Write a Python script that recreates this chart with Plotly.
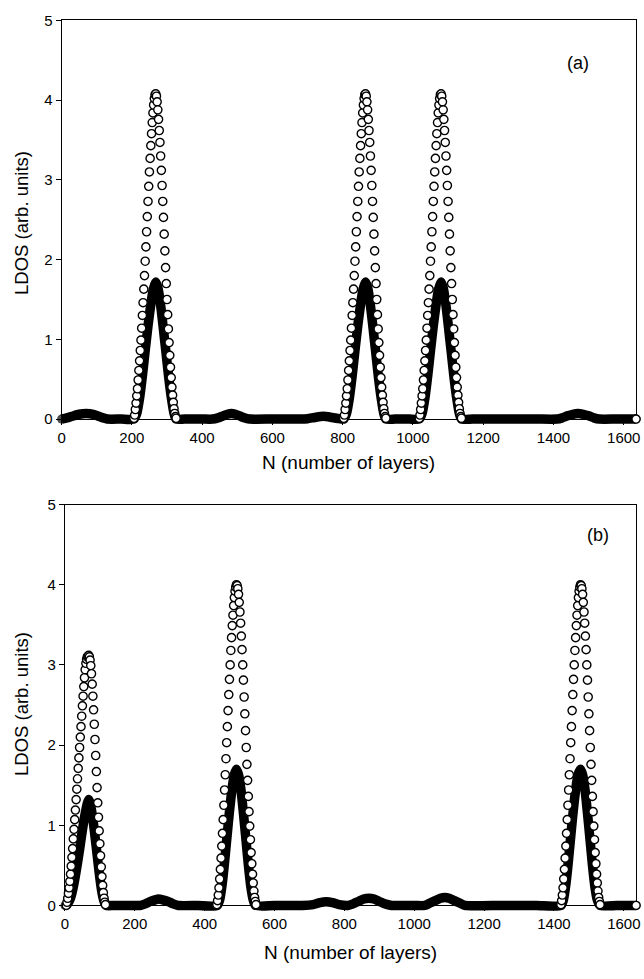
import plotly.graph_objects as go

# ---------------- data: panel (a) ----------------
# open circles (N sampled every 2 layers inside each resonance)
A1_OPEN_N = list(range(206, 328, 2))
A2_OPEN_N = list(range(803, 925, 2))
A3_OPEN_N = list(range(1018, 1140, 2))
A1_OPEN_LDOS = [0.01, 0.05, 0.12, 0.20, 0.29, 0.38, 0.49, 0.61, 0.73, 0.86,
                0.99, 1.14, 1.30, 1.46, 1.63, 1.80, 1.98, 2.16, 2.35, 2.54,
                2.73, 2.92, 3.10, 3.27, 3.43, 3.58, 3.72, 3.84, 3.94, 4.02,
                4.07,
                4.08, 4.05, 3.98, 3.88, 3.76, 3.62, 3.47, 3.30, 3.12, 2.93,
                2.73, 2.53, 2.32, 2.11, 1.90, 1.70, 1.50, 1.31, 1.13, 0.96,
                0.80, 0.65, 0.52, 0.40, 0.30, 0.21, 0.13, 0.07, 0.03, 0.01]
A2_OPEN_LDOS = [0.01, 0.05, 0.12, 0.20, 0.29, 0.38, 0.49, 0.61, 0.73, 0.86,
                0.99, 1.14, 1.30, 1.46, 1.63, 1.80, 1.98, 2.16, 2.35, 2.54,
                2.73, 2.92, 3.10, 3.27, 3.43, 3.58, 3.72, 3.84, 3.94, 4.02,
                4.07,
                4.08, 4.05, 3.98, 3.88, 3.76, 3.62, 3.47, 3.30, 3.12, 2.93,
                2.73, 2.53, 2.32, 2.11, 1.90, 1.70, 1.50, 1.31, 1.13, 0.96,
                0.80, 0.65, 0.52, 0.40, 0.30, 0.21, 0.13, 0.07, 0.03, 0.01]
A3_OPEN_LDOS = [0.01, 0.05, 0.12, 0.20, 0.29, 0.38, 0.49, 0.61, 0.73, 0.86,
                0.99, 1.14, 1.30, 1.46, 1.63, 1.80, 1.98, 2.16, 2.35, 2.54,
                2.73, 2.92, 3.10, 3.27, 3.43, 3.58, 3.72, 3.84, 3.94, 4.02,
                4.07,
                4.08, 4.05, 3.98, 3.88, 3.76, 3.62, 3.47, 3.30, 3.12, 2.93,
                2.73, 2.53, 2.32, 2.11, 1.90, 1.70, 1.50, 1.31, 1.13, 0.96,
                0.80, 0.65, 0.52, 0.40, 0.30, 0.21, 0.13, 0.07, 0.03, 0.01]
A_END_N = [1635]
A_END_LDOS = [0.0]

# filled circles (dense curve)
A_FILLED_N = [0, 15, 30, 50, 70, 90, 105, 118, 130, 170,
              206, 214, 222, 230, 238, 246, 254, 261, 268,
              274, 281, 289, 297, 305, 313, 320, 326,
              350, 400, 430, 445, 460, 472, 483, 495, 507, 520, 535,
              600, 680, 700, 720, 745, 770, 790,
              803, 811, 819, 827, 835, 843, 851, 858, 865,
              871, 878, 886, 894, 902, 910, 917, 923,
              950, 990,
              1018, 1026, 1034, 1042, 1050, 1058, 1066, 1073, 1080,
              1086, 1093, 1101, 1109, 1117, 1125, 1132, 1138,
              1170, 1250, 1350, 1410, 1425, 1440, 1455, 1469, 1485, 1500,
              1515, 1530, 1580, 1635]
A_FILLED_LDOS = [0.0, 0.015, 0.035, 0.06, 0.07, 0.06, 0.035, 0.015, 0.0, 0.0,
                 0.0, 0.07, 0.26, 0.54, 0.86, 1.17, 1.44, 1.63, 1.72,
                 1.65, 1.46, 1.16, 0.84, 0.52, 0.25, 0.07, 0.0,
                 0.0, 0.0, 0.0, 0.015, 0.04, 0.06, 0.07, 0.06, 0.04, 0.015, 0.0,
                 0.0, 0.0, 0.005, 0.02, 0.035, 0.02, 0.005,
                 0.0, 0.07, 0.26, 0.54, 0.86, 1.17, 1.44, 1.63, 1.72,
                 1.65, 1.46, 1.16, 0.84, 0.52, 0.25, 0.07, 0.0,
                 0.0, 0.0,
                 0.0, 0.07, 0.26, 0.54, 0.86, 1.17, 1.44, 1.63, 1.72,
                 1.65, 1.46, 1.16, 0.84, 0.52, 0.25, 0.07, 0.0,
                 0.0, 0.0, 0.0, 0.0, 0.015, 0.04, 0.06, 0.07, 0.06, 0.04,
                 0.015, 0.0, 0.0, 0.0]

# ---------------- data: panel (b) ----------------
B1_OPEN_N = list(range(4, 118, 2))
B2_OPEN_N = list(range(435, 549, 2))
B3_OPEN_N = list(range(1420, 1534, 2))
B1_OPEN_LDOS = [0.00, 0.04, 0.09, 0.15, 0.22, 0.30, 0.39, 0.49, 0.60, 0.71,
                0.83, 0.95, 1.07, 1.19, 1.32, 1.45, 1.58, 1.71, 1.84, 1.97,
                2.10, 2.23, 2.36, 2.49, 2.61, 2.73, 2.84, 2.94, 3.02, 3.07,
                3.10, 3.11,
                3.12,
                3.10, 3.06, 2.99, 2.89, 2.76, 2.61, 2.44, 2.26, 2.07, 1.87,
                1.67, 1.47, 1.28, 1.10, 0.93, 0.77, 0.62, 0.48, 0.36, 0.25,
                0.16, 0.09, 0.04, 0.01]
B2_OPEN_LDOS = [0.01, 0.06, 0.13, 0.22, 0.33, 0.45, 0.59, 0.74, 0.90, 1.07,
                1.25, 1.44, 1.63, 1.83, 2.03, 2.23, 2.43, 2.63, 2.82, 3.00,
                3.18, 3.34, 3.49, 3.62, 3.74, 3.84, 3.92, 3.97, 4.00,
                3.99, 3.95, 3.88, 3.78, 3.66, 3.52, 3.36, 3.19, 3.00, 2.81,
                2.60, 2.39, 2.18, 1.97, 1.76, 1.56, 1.36, 1.17, 0.99, 0.82,
                0.66, 0.52, 0.39, 0.28, 0.18, 0.10, 0.05, 0.01]
B3_OPEN_LDOS = [0.01, 0.06, 0.13, 0.22, 0.33, 0.45, 0.59, 0.74, 0.90, 1.07,
                1.25, 1.44, 1.63, 1.83, 2.03, 2.23, 2.43, 2.63, 2.82, 3.00,
                3.18, 3.34, 3.49, 3.62, 3.74, 3.84, 3.92, 3.97, 4.00,
                3.99, 3.95, 3.88, 3.78, 3.66, 3.52, 3.36, 3.19, 3.00, 2.81,
                2.60, 2.39, 2.18, 1.97, 1.76, 1.56, 1.36, 1.17, 0.99, 0.82,
                0.66, 0.52, 0.39, 0.28, 0.18, 0.10, 0.05, 0.01]
B_END_N = [1635]
B_END_LDOS = [0.0]

B_FILLED_N = [0, 6, 12, 18, 24, 30, 36, 42, 48, 54, 60, 64, 68,
              72, 76, 82, 88, 94, 100, 106, 112, 118,
              140, 180, 215, 230, 245, 258, 268, 280, 295, 310, 325, 380,
              436, 443, 450, 457, 464, 471, 478, 485, 491,
              497, 504, 511, 518, 525, 532, 539, 546,
              600, 680, 710, 730, 748, 766, 785, 810, 825, 840, 855, 870,
              885, 900, 915, 935, 1000, 1030, 1045, 1060, 1075, 1087, 1100,
              1115, 1130, 1145, 1250, 1350,
              1420, 1427, 1434, 1441, 1448, 1455, 1462, 1469, 1476,
              1482, 1489, 1496, 1503, 1510, 1517, 1524, 1532,
              1580, 1635]
B_FILLED_LDOS = [0.0, 0.01, 0.05, 0.12, 0.23, 0.37, 0.53, 0.70, 0.88, 1.05, 1.19, 1.27, 1.32,
                 1.28, 1.19, 1.01, 0.79, 0.56, 0.34, 0.16, 0.05, 0.0,
                 0.0, 0.0, 0.0, 0.02, 0.05, 0.07, 0.08, 0.07, 0.05, 0.02, 0.0, 0.0,
                 0.0, 0.07, 0.26, 0.54, 0.86, 1.17, 1.44, 1.63, 1.70,
                 1.63, 1.44, 1.15, 0.83, 0.51, 0.24, 0.07, 0.0,
                 0.0, 0.0, 0.01, 0.035, 0.045, 0.035, 0.01, 0.0, 0.02, 0.05, 0.08, 0.09,
                 0.08, 0.05, 0.02, 0.0, 0.0, 0.0, 0.03, 0.06, 0.09, 0.10, 0.09,
                 0.06, 0.03, 0.0, 0.0, 0.0,
                 0.0, 0.07, 0.26, 0.54, 0.86, 1.17, 1.44, 1.63, 1.70,
                 1.63, 1.44, 1.15, 0.83, 0.51, 0.24, 0.07, 0.0,
                 0.0, 0.0]

X_TICKS = [0, 200, 400, 600, 800, 1000, 1200, 1400, 1600]
Y_TICKS = [0, 1, 2, 3, 4, 5]
X_MAX = 1635
Y_MAX = 5
X_TITLE = "N (number of layers)"
Y_TITLE = "LDOS (arb. units)"
PANEL_LABELS = ["(a)", "(b)"]

# ---------------- figure ----------------
W, H = 644, 979
FONT = "Liberation Sans, Arial, Helvetica, sans-serif"
EXT = 8  # extra drawing room (px) so the thick curve is not clipped at the frame

fig = go.Figure()


def px_x(p):
    return p / W


def px_y(p):
    return 1 - p / H


frame_common = dict(ticks="outside", ticklen=5, tickwidth=1, tickcolor="black",
                    showline=True, linecolor="black", linewidth=1, mirror=True,
                    showgrid=False, zeroline=False, ticklabeloverflow="allow",
                    autorange=False,
                    tickfont=dict(family=FONT, size=15, color="black"))

layout_axes = {}
boxes = [  # (left, right, top, bottom) of each frame in px
    (58.3, 640.0, 11.7, 417.3),
    (61.7, 640.0, 504.3, 912.3),
]
for i, (l, r, t, b) in enumerate(boxes):
    fx = "xaxis" if i == 0 else "xaxis2"
    fy = "yaxis" if i == 0 else "yaxis2"
    fya = "y" if i == 0 else "y2"
    fxa = "x" if i == 0 else "x2"
    layout_axes[fx] = dict(domain=[px_x(l), px_x(r)], anchor=fya, range=[0, X_MAX],
                           tickvals=X_TICKS, **frame_common)
    layout_axes[fy] = dict(domain=[px_y(b), px_y(t)], anchor=fxa, range=[0, Y_MAX],
                           tickvals=Y_TICKS, **frame_common)
    # frame subplot carries an empty trace so plotly draws its axes
    fig.add_trace(go.Scatter(x=[], y=[], xaxis=fxa, yaxis=fya, mode="markers",
                             hoverinfo="skip", showlegend=False))
    # hidden data axes with identical scale but a slightly larger clip box
    kx = (r - l) / X_MAX
    ky = (b - t) / Y_MAX
    l2, r2, t2, b2 = l - EXT, min(W, r + EXT), t - EXT, b + EXT
    dx = "xaxis%d" % (i + 3)
    dy = "yaxis%d" % (i + 3)
    layout_axes[dx] = dict(domain=[px_x(l2), px_x(r2)], anchor="y%d" % (i + 3),
                           range=[-(l - l2) / kx, X_MAX + (r2 - r) / kx],
                           autorange=False, visible=False)
    layout_axes[dy] = dict(domain=[px_y(b2), px_y(t2)], anchor="x%d" % (i + 3),
                           range=[-(b2 - b) / ky, Y_MAX + (t - t2) / ky],
                           autorange=False, visible=False)


def add_panel(xa, ya, fn, fy, open_sets):
    sizes = [9 if k in (0, len(fn) - 1) else 0 for k in range(len(fn))]
    fig.add_trace(go.Scatter(
        x=fn, y=fy, mode="lines+markers", xaxis=xa, yaxis=ya,
        line=dict(color="black", width=9.5, shape="spline", smoothing=0.6),
        marker=dict(size=sizes, color="black", line=dict(width=0)),
        cliponaxis=False, hoverinfo="skip", showlegend=False))
    ox, oy = [], []
    for n, v in open_sets:
        ox += list(n)
        oy += list(v)
    fig.add_trace(go.Scatter(
        x=ox, y=oy, mode="markers", xaxis=xa, yaxis=ya,
        marker=dict(symbol="circle", size=8.2, color="white",
                    line=dict(color="black", width=1.4)),
        cliponaxis=False, showlegend=False))


add_panel("x3", "y3", A_FILLED_N, A_FILLED_LDOS,
          [(A1_OPEN_N, A1_OPEN_LDOS), (A2_OPEN_N, A2_OPEN_LDOS),
           (A3_OPEN_N, A3_OPEN_LDOS), (A_END_N, A_END_LDOS)])
add_panel("x4", "y4", B_FILLED_N, B_FILLED_LDOS,
          [(B1_OPEN_N, B1_OPEN_LDOS), (B2_OPEN_N, B2_OPEN_LDOS),
           (B3_OPEN_N, B3_OPEN_LDOS), (B_END_N, B_END_LDOS)])

fig.update_layout(
    width=W, height=H,
    margin=dict(l=0, r=0, t=0, b=0),
    paper_bgcolor="white", plot_bgcolor="rgba(0,0,0,0)",
    showlegend=False,
    **layout_axes,
)

ann = []
for cx, cy in [(349, 462), (351, 960)]:
    ann.append(dict(text=X_TITLE, x=px_x(cx), y=px_y(cy), xref="paper", yref="paper",
                    xanchor="center", yanchor="middle", showarrow=False,
                    font=dict(family=FONT, size=19, color="black")))
for cy in [218, 707.5]:
    ann.append(dict(text=Y_TITLE, x=px_x(17), y=px_y(cy), xref="paper", yref="paper",
                    xanchor="center", yanchor="middle", showarrow=False, textangle=-90,
                    font=dict(family=FONT, size=18.5, color="black")))
for lab, (cx, cy) in zip(PANEL_LABELS, [(581.7, 55), (601.7, 535)]):
    ann.append(dict(text=lab, x=px_x(cx), y=px_y(cy), xref="paper", yref="paper",
                    xanchor="center", yanchor="middle", showarrow=False,
                    font=dict(family=FONT, size=18, color="black")))
fig.update_layout(annotations=ann)

fig.write_html("out.html")
